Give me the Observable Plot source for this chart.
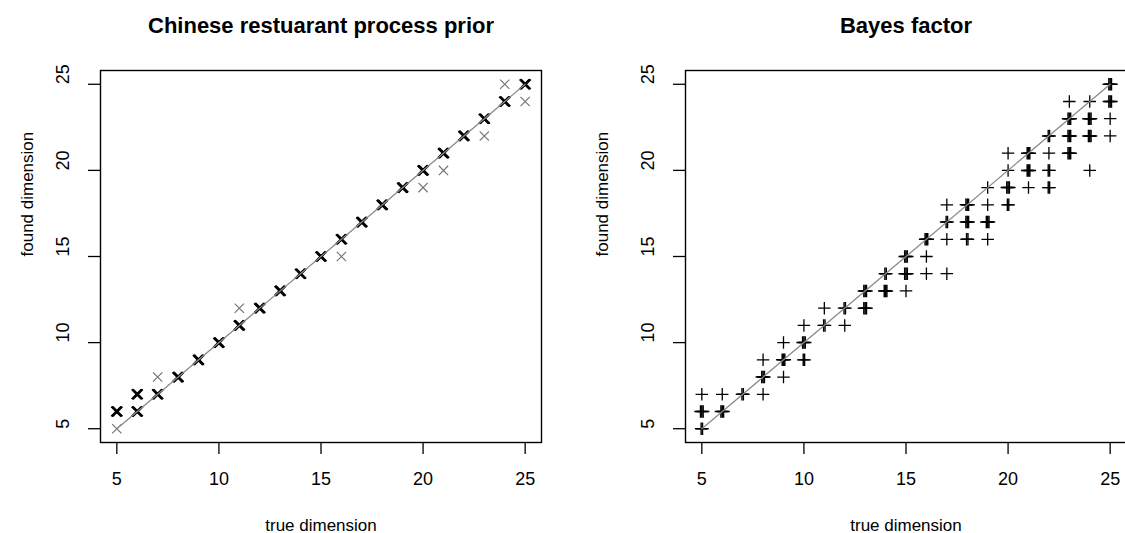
<!DOCTYPE html>
<html>
<head>
<meta charset="utf-8">
<script src="https://cdn.jsdelivr.net/npm/d3@7"></script>
<script src="https://cdn.jsdelivr.net/npm/@observablehq/plot@0.6"></script>
<style>
  html, body { margin: 0; padding: 0; background: white; overflow: hidden; }
  #wrap { position: relative; width: 1125px; height: 533px; overflow: hidden; background: white; }
  #wrap > div { position: absolute; top: 0; width: 562px; height: 533px; }
  #wrap svg { max-width: none !important; width: 562px; height: 533px; }
</style>
</head>
<body>
<div id="wrap"><div id="left" style="left:0px"></div><div id="right" style="left:585px"></div></div>
<script>
// ---- data ----
const dimTicks = [5, 10, 15, 20, 25];
const diagonal = [5, 25];

const titleLeft = "Chinese restuarant process prior";
const titleRight = "Bayes factor";
const xLabel = "true dimension";
const yLabel = "found dimension";

// Chinese restaurant process prior: true dimension, found dimension, number of runs
const crpTrue  = [5, 5, 6, 6, 7, 7, 8, 9, 10, 11, 11, 12, 13, 14, 15, 16, 16, 17, 18, 19, 20, 20, 21, 21, 22, 23, 23, 24, 24, 25, 25];
const crpFound = [6, 5, 7, 6, 8, 7, 8, 9, 10, 12, 11, 12, 13, 14, 15, 16, 15, 17, 18, 19, 20, 19, 21, 20, 22, 23, 22, 24, 25, 25, 24];
const crpCount = [4, 1, 4, 4, 1, 4, 4, 4, 4, 1, 4, 4, 4, 4, 4, 4, 1, 4, 4, 4, 4, 1, 4, 1, 4, 4, 1, 4, 1, 4, 1];

// Bayes factor: true dimension, found dimension, number of runs
const bfTrue  = [5, 5, 5, 6, 6, 7, 8, 8, 8, 9, 9, 9, 10, 10, 10, 11, 11, 12, 12, 13, 13, 14, 14, 15, 15, 15, 16, 16, 16,
                 17, 17, 17, 17, 18, 18, 18, 19, 19, 19, 19, 20, 20, 20, 20, 21, 21, 21, 22, 22, 22, 22,
                 23, 23, 23, 23, 24, 24, 24, 24, 25, 25, 25, 25];
const bfFound = [7, 6, 5, 7, 6, 7, 9, 8, 7, 10, 9, 8, 11, 10, 9, 12, 11, 12, 11, 13, 12, 14, 13, 15, 14, 13, 16, 15, 14,
                 18, 17, 16, 14, 18, 17, 16, 19, 18, 17, 16, 21, 20, 19, 18, 21, 20, 19, 22, 21, 20, 19,
                 24, 23, 22, 21, 24, 23, 22, 20, 25, 24, 23, 22];
const bfCount = [1, 4, 2, 1, 4, 2, 1, 4, 1, 1, 4, 1, 1, 4, 2, 1, 2, 2, 1, 4, 4, 2, 4, 4, 4, 1, 4, 1, 1,
                 1, 2, 1, 1, 4, 4, 2, 1, 1, 4, 1, 1, 1, 4, 2, 4, 4, 1, 2, 1, 2, 2,
                 1, 4, 4, 4, 1, 4, 4, 1, 4, 4, 1, 1];

const crp = crpTrue.map((t, i) => ({t, f: crpFound[i], n: crpCount[i]}));
const bf  = bfTrue.map((t, i) => ({t, f: bfFound[i], n: bfCount[i]}));

const FONT = "'Liberation Sans', Arial, Helvetica, sans-serif";

function panel(data, title, symbolMarks, labelDx) {
  return Plot.plot({
    width: 562,
    height: 533,
    marginLeft: 100,
    marginRight: 21,
    marginTop: 70,
    marginBottom: 91,
    x: {domain: [4.2, 25.8]},
    y: {domain: [4.2, 25.8]},
    style: {fontFamily: FONT, fontSize: "18px", background: "white", color: "black", overflow: "visible", maxWidth: "none"},
    marks: [
      ...symbolMarks(data),
      Plot.line(diagonal, {x: d => d, y: d => d, stroke: "#8a8a8a", strokeWidth: 1.3}),
      Plot.frame({stroke: "black", strokeWidth: 1.4}),
      Plot.axisX({ticks: dimTicks, tickSize: 12, tickFormat: () => "", label: null, strokeWidth: 1.3}),
      Plot.axisY({ticks: dimTicks, tickSize: 12, tickFormat: () => "", label: null, strokeWidth: 1.3}),
      Plot.text(dimTicks, {x: d => d, text: d => String(d), frameAnchor: "bottom", lineAnchor: "top", dy: 30, fontSize: 18}),
      Plot.text(dimTicks, {y: d => d, text: d => String(d), frameAnchor: "left", lineAnchor: "middle", rotate: -90, dx: -37, fontSize: 18}),
      Plot.text([title], {frameAnchor: "top", lineAnchor: "bottom", dy: -38, fontSize: 22, fontWeight: "bold"}),
      Plot.text([xLabel], {frameAnchor: "bottom", lineAnchor: "bottom", dy: 88, fontSize: 17}),
      Plot.text([yLabel], {frameAnchor: "left", lineAnchor: "middle", rotate: -90, dx: labelDx, fontSize: 17})
    ]
  });
}

const crpMarks = (data) => [
  Plot.dot(data, {filter: d => d.n === 1, x: "t", y: "f", symbol: "times", r: 4.3, stroke: "#707070", strokeWidth: 1.1}),
  ...[-0.6, 0, 0.6].map(dx =>
    Plot.dot(data, {filter: d => d.n > 1, x: "t", y: "f", symbol: "times", r: 4.5, stroke: "black", strokeWidth: 2, dx}))
];

const bfMarks = (data) => [
  Plot.dot(data, {filter: d => d.n === 1, x: "t", y: "f", symbol: "plus", r: 4.1, stroke: "black", strokeWidth: 1.3}),
  ...[-0.7, 0.7].map(dx =>
    Plot.dot(data, {filter: d => d.n === 2, x: "t", y: "f", symbol: "plus", r: 4.1, stroke: "black", strokeWidth: 1.4, dx})),
  ...[-1.3, 0, 1.3].map(dx =>
    Plot.dot(data, {filter: d => d.n > 2, x: "t", y: "f", symbol: "plus", r: 4.1, stroke: "black", strokeWidth: 1.5, dx}))
];

document.getElementById("left").append(panel(crp, titleLeft, crpMarks, -73));
document.getElementById("right").append(panel(bf, titleRight, bfMarks, -83));
</script>
</body>
</html>
